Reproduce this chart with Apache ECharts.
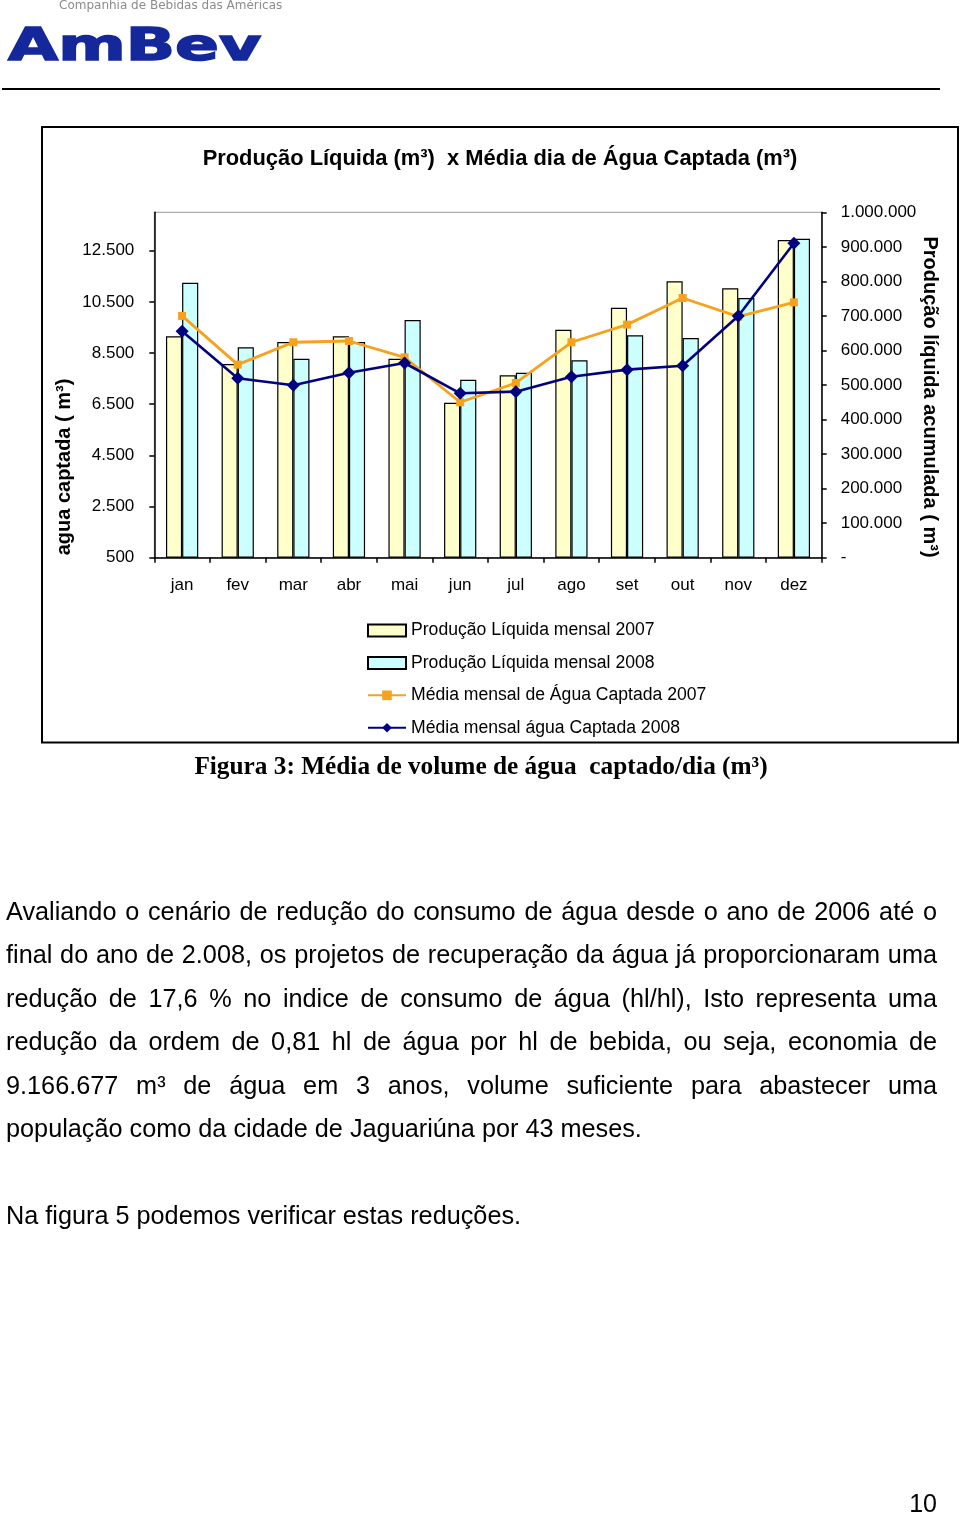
<!DOCTYPE html>
<html>
<head>
<meta charset="utf-8">
<script src="https://cdn.jsdelivr.net/npm/echarts@6/dist/echarts.min.js"></script>
<style>
  html, body { margin: 0; padding: 0; background: #fff; }
  body { width: 960px; height: 1515px; position: relative; overflow: hidden; }
  #chart { position: absolute; left: 0; top: 0; width: 960px; height: 1515px; }
  .para { position: absolute; left: 6px; width: 931px; font-family: "Liberation Sans", Arial, sans-serif; font-size: 25.25px; color: #000; }
  .ln { height: 43.5px; line-height: 43.5px; white-space: nowrap; text-align: justify; text-align-last: justify; }
  .last { text-align-last: left; }
  #pg { position: absolute; right: 23px; top: 1485px; font-family: "Liberation Sans", Arial, sans-serif; font-size: 25px; line-height: 36px; }
</style>
</head>
<body>
<div id="chart"></div>
<div class="para" style="top:889.5px">
  <div class="ln">Avaliando o cenário de redução do consumo de água desde o ano de 2006 até o</div>
  <div class="ln">final do ano de 2.008, os projetos de recuperação da água já proporcionaram uma</div>
  <div class="ln">redução de 17,6 % no indice de consumo de água (hl/hl), Isto representa uma</div>
  <div class="ln">redução da ordem de 0,81 hl de água por hl de bebida, ou seja, economia de</div>
  <div class="ln">9.166.677 m³ de água em 3 anos, volume suficiente para abastecer uma</div>
  <div class="ln last">população como da cidade de Jaguariúna por 43 meses.</div>
  <div class="ln last">&nbsp;</div>
  <div class="ln last">Na figura 5 podemos verificar estas reduções.</div>
</div>
<div id="pg">10</div>
<script>
// ---- data ----
const categories = ['jan', 'fev', 'mar', 'abr', 'mai', 'jun', 'jul', 'ago', 'set', 'out', 'nov', 'dez'];
const prod2007 = [641000, 560800, 624500, 641000, 576200, 448800, 528100, 660100, 723800, 800200, 780000, 919800];
const prod2008 = [796200, 609100, 576200, 624500, 688200, 515300, 535600, 571500, 643900, 636100, 751900, 923600];
const agua2007 = [9950, 8045, 8920, 8970, 8330, 6575, 7330, 8920, 9610, 10650, 9920, 10480];
const agua2008 = [9350, 7515, 7240, 7730, 8110, 6925, 6990, 7575, 7850, 8005, 9950, 12790];
const seriesNames = ['Produção Líquida mensal 2007', 'Produção Líquida mensal 2008', 'Média mensal de Água Captada 2007', 'Média mensal água Captada 2008'];

function fmt(v) { return String(v).replace(/\B(?=(\d{3})+(?!\d))/g, '.'); }

const FONT = '"Liberation Sans", Arial, sans-serif';
const chart = echarts.init(document.getElementById('chart'), null, { renderer: 'canvas' });

chart.setOption({
  animation: false,
  backgroundColor: '#fff',
  textStyle: { fontFamily: FONT, color: '#000' },
  grid: {
    left: 154.3, top: 212.3, width: 667.4, height: 345.4,
    show: true, borderColor: '#9a9a9a', borderWidth: 1, backgroundColor: 'transparent'
  },
  legend: {
    orient: 'vertical', left: 367, top: 621.5, padding: 0,
    itemWidth: 38, itemHeight: 12, itemGap: 14.4, itemTextGap: 4,
    textStyle: { fontFamily: FONT, fontSize: 17.6, color: '#000', lineHeight: 17.5 },
    data: [
      { name: seriesNames[0], icon: 'rect' },
      { name: seriesNames[1], icon: 'rect' },
      { name: seriesNames[2] },
      { name: seriesNames[3] }
    ]
  },
  xAxis: {
    type: 'category', data: categories, boundaryGap: true,
    axisLine: { lineStyle: { color: '#000', width: 1.5 } },
    axisTick: { show: true, length: 5, lineStyle: { color: '#000', width: 1.5 } },
    axisLabel: { fontFamily: FONT, fontSize: 17, color: '#000', margin: 19, interval: 0 },
    splitLine: { show: false }
  },
  yAxis: [
    {
      type: 'value', min: 500, max: 14000, interval: 2000, position: 'left',
      axisLine: { show: true, lineStyle: { color: '#000', width: 1.5 } },
      axisTick: { show: true, length: 5, lineStyle: { color: '#000', width: 1.5 } },
      axisLabel: { fontFamily: FONT, fontSize: 17, color: '#000', margin: 20, showMaxLabel: false,
        formatter: v => (v >= 14000 ? '' : fmt(v)) },
      splitLine: { show: false }
    },
    {
      type: 'value', min: 0, max: 1000000, interval: 100000, position: 'right',
      axisLine: { show: true, lineStyle: { color: '#000', width: 1.5 } },
      axisTick: { show: true, length: 5, lineStyle: { color: '#000', width: 1.5 } },
      axisLabel: { fontFamily: FONT, fontSize: 17, color: '#000', margin: 19,
        formatter: v => (v === 0 ? '-' : fmt(v)) },
      splitLine: { show: false }
    }
  ],
  series: [
    {
      name: seriesNames[0], type: 'bar', yAxisIndex: 1, data: prod2007,
      barGap: '0%', barCategoryGap: '42%',
      itemStyle: { color: '#FFFFCC', borderColor: '#000', borderWidth: 1.2 }, z: 2
    },
    {
      name: seriesNames[1], type: 'bar', yAxisIndex: 1, data: prod2008,
      barGap: '0%', barCategoryGap: '42%',
      itemStyle: { color: '#CCFFFF', borderColor: '#000', borderWidth: 1.2 }, z: 2
    },
    {
      name: seriesNames[2], type: 'line', yAxisIndex: 0, data: agua2007,
      symbol: 'rect', symbolSize: 8,
      lineStyle: { color: '#F7A11C', width: 2.8 },
      itemStyle: { color: '#F7A11C' }, z: 4
    },
    {
      name: seriesNames[3], type: 'line', yAxisIndex: 0, data: agua2008,
      symbol: 'diamond', symbolSize: 13,
      lineStyle: { color: '#000080', width: 2.6 },
      itemStyle: { color: '#000080' }, z: 5
    }
  ],
  graphic: [
    { type: 'text', x: 59, y: 6, style: { text: 'Companhia de Bebidas das Américas', x: 0, y: 0,
        font: '12px "DejaVu Sans", sans-serif', fill: '#8c8c8c', textVerticalAlign: 'middle' } },
    { type: 'text', x: 8, y: 48, scaleX: 1.44, style: { text: 'AmBev', x: 0, y: 0,
        font: 'bold 45px "DejaVu Sans", sans-serif', fill: '#14289c', stroke: '#14289c', lineWidth: 1.5,
        textVerticalAlign: 'middle' } },
    { type: 'line', shape: { x1: 2, y1: 89, x2: 940, y2: 89 }, style: { stroke: '#000', lineWidth: 2 } },
    { type: 'rect', shape: { x: 42, y: 127, width: 916, height: 615.5 },
      style: { fill: 'none', stroke: '#000', lineWidth: 2 }, z: -1 },
    { type: 'text', x: 500, y: 159, style: { text: 'Produção Líquida (m³)  x Média dia de Água Captada (m³)',
        x: 0, y: 0, font: 'bold 21.9px ' + FONT, fill: '#000', textAlign: 'center', textVerticalAlign: 'middle' } },
    { type: 'text', x: 64, y: 467, rotation: Math.PI / 2, style: { text: 'agua captada ( m³)', x: 0, y: 0,
        font: 'bold 20px ' + FONT, fill: '#000', textAlign: 'center', textVerticalAlign: 'middle' } },
    { type: 'text', x: 930, y: 397, rotation: -Math.PI / 2, style: { text: 'Produção líquida acumulada ( m³)', x: 0, y: 0,
        font: 'bold 20px ' + FONT, fill: '#000', textAlign: 'center', textVerticalAlign: 'middle' } },
    { type: 'text', x: 481, y: 767.5, style: { text: 'Figura 3: Média de volume de água  captado/dia (m³)', x: 0, y: 0,
        font: 'bold 25.3px "Liberation Serif", "Times New Roman", serif', fill: '#000', textAlign: 'center', textVerticalAlign: 'middle' } }
  ]
});
</script>
</body>
</html>
